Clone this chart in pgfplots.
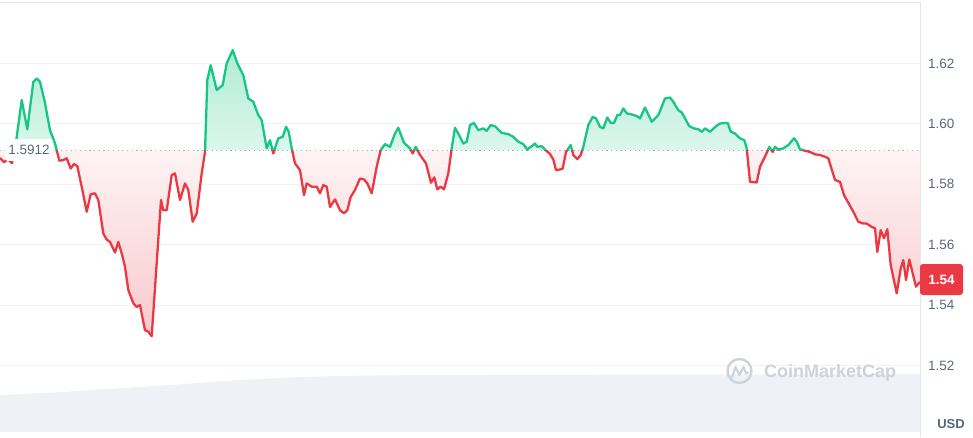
\documentclass[border=0pt]{standalone}
\usepackage{pgfplots}
\pgfplotsset{compat=1.18}
\usepackage{pgfplotstable}
\usepackage{fontspec}
\setmainfont{Liberation Sans}
\definecolor{cmcgreen}{HTML}{16C784}
\definecolor{cmcred}{HTML}{EA3943}
\definecolor{lbl}{HTML}{58667E}
\definecolor{gridc}{HTML}{F0F2F5}
\definecolor{volc}{HTML}{EEF1F5}
\definecolor{framec}{HTML}{E3E6EB}
\definecolor{basec}{HTML}{A6B0C3}
\definecolor{wm}{HTML}{CDD3DC}

\pgfplotstableread{
x y
0 1.5887
4 1.5873
8 1.5883
12 1.5870
16 1.5939
21.7 1.6079
27.3 1.5982
33.3 1.6139
36.7 1.6150
40 1.6139
45 1.6069
50 1.5979
55 1.5936
59.3 1.5878
63.3 1.5880
66.7 1.5886
70.7 1.5852
74 1.5867
77.3 1.5860
81.7 1.5792
86.7 1.5709
90.7 1.5767
95 1.5770
98.3 1.5748
103.3 1.5637
106.7 1.5617
110 1.5609
115 1.5574
118.3 1.5609
121.7 1.5571
125 1.5527
128.3 1.5450
133.3 1.5406
136.7 1.5394
140 1.5400
145 1.5317
148.3 1.5312
151.7 1.5297
161 1.5748
163.3 1.5714
166.7 1.5714
171.7 1.5830
175 1.5836
180 1.5748
185 1.5803
188.3 1.5781
192.7 1.5676
196.7 1.5703
201.7 1.5836
205 1.5907
207.3 1.6145
210.7 1.6194
216.7 1.6112
222.7 1.6128
226.7 1.6200
232.7 1.6244
237.3 1.6200
243.3 1.6161
248.3 1.6084
253.3 1.6073
258.3 1.6029
261.7 1.6012
266.7 1.5919
270 1.5946
273.3 1.5902
278.3 1.5952
282.7 1.5957
286 1.5990
288.7 1.5974
291.7 1.5919
295 1.5869
300 1.5847
304 1.5764
306.7 1.5803
311.7 1.5792
316.7 1.5792
320 1.5770
323.3 1.5797
326.7 1.5792
330 1.5725
335 1.5750
340 1.5714
344 1.5704
347.3 1.5714
350.7 1.5758
355 1.5781
360 1.5819
364 1.5816
367.3 1.5803
371.7 1.5770
376.7 1.5858
380.7 1.5913
385 1.5933
390 1.5924
395 1.5968
398.3 1.5987
404 1.5937
410 1.5919
412.7 1.5902
415.7 1.5924
420 1.5897
426 1.5869
431 1.5805
434.3 1.5823
437.3 1.5783
440.7 1.5792
444 1.5783
448.3 1.5836
451.7 1.5919
455 1.5987
460 1.5957
463.3 1.5935
466.7 1.5941
470 1.5996
474 1.6003
478.3 1.5979
483.3 1.5985
486.7 1.5977
490.7 1.5996
495 1.5992
501.7 1.5970
508.3 1.5966
513.3 1.5957
518.3 1.5941
523.3 1.5933
527.3 1.5915
531.7 1.5926
535 1.5935
537.3 1.5924
541.7 1.5926
545 1.5915
550 1.5900
553.3 1.5882
556 1.5847
560 1.5849
562.7 1.5852
566 1.5907
570.7 1.5930
573.3 1.5897
577.3 1.5883
580.7 1.5897
583.3 1.5924
588.3 1.5996
592.7 1.6023
596 1.6018
600 1.5990
603.3 1.5985
607.3 1.6021
610.7 1.6003
614 1.6003
617.3 1.6029
620 1.6029
623.3 1.6051
626.7 1.6035
631.7 1.6031
636.7 1.6026
640 1.6018
645 1.6054
651.7 1.6007
658.3 1.6029
665 1.6084
670 1.6087
673.3 1.6073
678.3 1.6045
681.7 1.6038
689.3 1.5992
694 1.5985
698.3 1.5982
701.7 1.5974
705 1.5985
710 1.5974
716 1.5992
720 1.6001
725 1.6003
727.7 1.6003
730.7 1.5974
735 1.5968
740 1.5952
744.3 1.5946
746.7 1.5919
750 1.5808
756.7 1.5806
760 1.5858
765 1.5891
769.3 1.5924
772.7 1.5907
775 1.5924
778.3 1.5915
783.3 1.5919
788.3 1.5930
794 1.5952
796.7 1.5941
800 1.5916
805 1.5911
810 1.5907
815 1.5899
820 1.5897
825 1.5891
828.3 1.5886
835 1.5814
840 1.5808
844 1.5764
848.3 1.5739
853.3 1.5709
858.3 1.5676
863.3 1.5670
866.7 1.5670
871.7 1.5659
875 1.5654
877.3 1.5576
880.7 1.5648
884 1.5621
887.3 1.5651
890.7 1.5532
896.7 1.5439
900.7 1.5521
903.3 1.5549
906 1.5483
909.3 1.5551
912.7 1.5505
916 1.5461
920 1.5477
}\price

\pgfplotstableread{
x y
0 1.498
0 1.5102
60 1.5112
120 1.5125
180 1.5138
240 1.5152
300 1.5162
330 1.5165
400 1.5168
920 1.5172
920 1.498
}\volume

\begin{document}
\begin{tikzpicture}[x=1pt,y=1pt]
\begin{axis}[
  at={(0pt,5pt)}, anchor=south west,
  scale only axis, width=920pt, height=429pt,
  xmin=0, xmax=920, ymin=1.498, ymax=1.640,
  xtick=\empty,
  ytick={1.52,1.54,1.56,1.58,1.60,1.62},
  yticklabel pos=right,
  ymajorgrids, grid style={gridc, line width=1pt},
  major tick length=0pt, ytick style={draw=none},
  axis line style={draw=none},
  scaled y ticks=false,
  yticklabel style={font=\fontsize{13.5}{16}\selectfont, text=lbl, anchor=west, inner sep=0pt, xshift=8pt,
    /pgf/number format/fixed, /pgf/number format/fixed zerofill,
    /pgf/number format/precision=2, /pgf/number format/assume math mode=true},
  clip mode=individual,
]
\addplot[draw=none, fill=volc] table[x=x,y=y] {\volume};
\addplot[draw=none, top color=cmcgreen!34!white, bottom color=cmcgreen!15!white]
  table[x=x, y expr={max(\thisrow{y},1.5912)}] {\price} -- (axis cs:920,1.5912) -- (axis cs:0,1.5912) -- cycle;
\addplot[draw=none, top color=cmcred!6!white, bottom color=cmcred!27!white]
  table[x=x, y expr={min(\thisrow{y},1.5912)}] {\price} -- (axis cs:920,1.5912) -- (axis cs:0,1.5912) -- cycle;
\addplot[basec, line width=1.2pt, dash pattern=on 1.2pt off 3.5pt] coordinates {(0,1.5912) (920,1.5912)};
\begin{scope}
\clip (axis cs:0,1.5912) rectangle (axis cs:920,1.640);
\addplot[cmcgreen, line width=2.3pt, line join=round] table[x=x,y=y] {\price};
\end{scope}
\begin{scope}
\clip (axis cs:0,1.498) rectangle (axis cs:920,1.5912);
\addplot[cmcred, line width=2.3pt, line join=round] table[x=x,y=y] {\price};
\end{scope}
\end{axis}
% frame lines
\draw[framec, line width=1pt] (0,434) -- (920,434) -- (920,0);
% baseline label
\node[fill=white, text=lbl, font=\fontsize{13.5}{16}\selectfont, inner xsep=3pt, inner ysep=6pt, rounded corners=2pt] at (29,287) {1.5912};
% current price badge
\node[fill=cmcred, text=white, font=\bfseries\fontsize{13.5}{16}\selectfont, rounded corners=3pt, minimum width=43pt, minimum height=31pt, inner sep=0pt] at (941.5,157.5) {1.54};
% USD
\node[text=lbl, font=\bfseries\fontsize{13}{15}\selectfont] at (951,12.5) {USD};
% watermark
\draw[wm, line width=2.4pt] (739.5,66) circle (12pt);
\draw[wm, line width=2.2pt, line join=round, line cap=round] (732,60) -- (735.5,70) -- (739.5,62) -- (743.5,70) -- (746,63.5) -- (748,64.5);
\node[text=wm, font=\bfseries\fontsize{18}{20}\selectfont, anchor=west, inner sep=0pt] at (764,64.5) {CoinMarketCap};
\pgfresetboundingbox
\path[use as bounding box] (0,0) rectangle (973,437);
\end{tikzpicture}
\end{document}
